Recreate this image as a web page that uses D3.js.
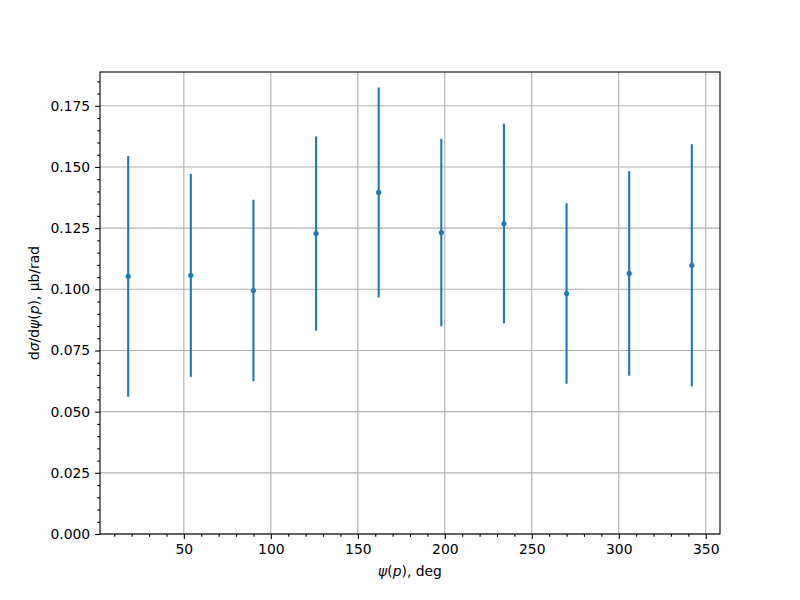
<!DOCTYPE html>
<html>
<head>
<meta charset="utf-8">
<script src="https://cdn.jsdelivr.net/npm/d3@7"></script>
<style>
  html, body { margin: 0; background: #fff; overflow: hidden; }
  svg { display: block; }
  text { font-family: "DejaVu Sans", sans-serif; }
</style>
<script>
  // binned angle centres, deg
  const psiCentres = [18, 54, 90, 126, 162, 198, 234, 270, 306, 342];
  // cross section, ub/rad
  const xsecValues = [0.1053, 0.1057, 0.0995, 0.1228, 0.1396, 0.1232, 0.1269, 0.0983, 0.1065, 0.1098];
  const xsecErrors = [0.0492, 0.0415, 0.0371, 0.0397, 0.0429, 0.0383, 0.0408, 0.0369, 0.0418, 0.0495];
  const xTicks = [50, 100, 150, 200, 250, 300, 350];
  const yTicks = [0, 0.025, 0.05, 0.075, 0.1, 0.125, 0.15, 0.175];

  const render = () => {
    const blue = '#1f77b4';
    const svg = d3.select('svg');
    const width = +svg.attr('width');
    const height = +svg.attr('height');
    const margin = { top: 72, right: 80, bottom: 66, left: 100 };
    const innerWidth = width - margin.left - margin.right;
    const innerHeight = height - margin.top - margin.bottom;

    const data = psiCentres.map((x, i) => ({ x: x, y: xsecValues[i], e: xsecErrors[i] }));

    // matplotlib style 5% margins
    const xMin = d3.min(psiCentres), xMax = d3.max(psiCentres);
    const xPad = 0.05 * (xMax - xMin);
    const lo = d3.min(data, d => d.y - d.e), hi = d3.max(data, d => d.y + d.e);
    const yTop = hi + 0.05 * (hi - lo);

    const xScale = d3.scaleLinear().domain([xMin - xPad, xMax + xPad]).range([0, innerWidth]);
    const yScale = d3.scaleLinear().domain([0, yTop]).range([innerHeight, 0]);

    const g = svg.append('g').attr('transform', `translate(${margin.left},${margin.top})`);

    // grid
    g.append('g').selectAll('line').data(xTicks).enter().append('line')
      .attr('x1', d => xScale(d)).attr('x2', d => xScale(d))
      .attr('y1', 0).attr('y2', innerHeight)
      .attr('stroke', '#b0b0b0').attr('stroke-width', 1.1);
    g.append('g').selectAll('line').data(yTicks).enter().append('line')
      .attr('y1', d => yScale(d)).attr('y2', d => yScale(d))
      .attr('x1', 0).attr('x2', innerWidth)
      .attr('stroke', '#b0b0b0').attr('stroke-width', 1.1);

    // minor ticks
    const xMinor = d3.range(10, 360, 10).filter(v => v % 50 !== 0);
    const yMinor = d3.range(0, 0.1875, 0.005).filter(v => Math.abs(v / 0.025 - Math.round(v / 0.025)) > 1e-6);

    const xAxisG = g.append('g')
      .attr('transform', `translate(0,${innerHeight})`)
      .call(d3.axisBottom(xScale).tickValues(xTicks).tickFormat(d3.format('d'))
        .tickSizeInner(4.9).tickSizeOuter(0).tickPadding(4.9));
    const xMinorG = g.append('g')
      .attr('transform', `translate(0,${innerHeight})`)
      .call(d3.axisBottom(xScale).tickValues(xMinor).tickFormat('')
        .tickSizeInner(2.8).tickSizeOuter(0));
    xMinorG.select('.domain').remove();
    xMinorG.selectAll('text').remove();

    const yAxisG = g.append('g')
      .call(d3.axisLeft(yScale).tickValues(yTicks).tickFormat(d3.format('.3f'))
        .tickSizeInner(4.9).tickSizeOuter(0).tickPadding(4.9));
    const yMinorG = g.append('g')
      .call(d3.axisLeft(yScale).tickValues(yMinor).tickFormat('')
        .tickSizeInner(2.8).tickSizeOuter(0));
    yMinorG.select('.domain').remove();
    yMinorG.selectAll('text').remove();

    xAxisG.select('.domain').remove();
    yAxisG.select('.domain').remove();
    g.selectAll('.tick line').attr('stroke', '#000').attr('stroke-width', 1.1);
    g.selectAll('.tick text').attr('fill', '#000').style('font-size', '13.9px')
      .style('font-family', '"DejaVu Sans", sans-serif');

    // error bars
    g.append('g').selectAll('line').data(data).enter().append('line')
      .attr('x1', d => xScale(d.x)).attr('x2', d => xScale(d.x))
      .attr('y1', d => yScale(d.y - d.e)).attr('y2', d => yScale(d.y + d.e))
      .attr('stroke', blue).attr('stroke-width', 2.1);
    g.append('g').selectAll('circle').data(data).enter().append('circle')
      .attr('cx', d => xScale(d.x)).attr('cy', d => yScale(d.y))
      .attr('r', 2.6).attr('fill', blue);

    // frame
    g.append('rect').attr('width', innerWidth).attr('height', innerHeight)
      .attr('fill', 'none').attr('stroke', '#000').attr('stroke-width', 1.1);

    // axis labels
    const xl = svg.append('text')
      .attr('x', margin.left + innerWidth / 2).attr('y', 576)
      .attr('text-anchor', 'middle').style('font-size', '13.9px');
    xl.append('tspan').attr('font-style', 'italic').text('ψ');
    xl.append('tspan').text('(');
    xl.append('tspan').attr('font-style', 'italic').text('p');
    xl.append('tspan').text('), deg');

    const yl = svg.append('text')
      .attr('transform', `translate(39,${margin.top + innerHeight / 2}) rotate(-90)`)
      .attr('text-anchor', 'middle').style('font-size', '13.9px');
    yl.append('tspan').text('d');
    yl.append('tspan').attr('font-style', 'italic').text('σ');
    yl.append('tspan').text('/d');
    yl.append('tspan').attr('font-style', 'italic').text('ψ');
    yl.append('tspan').text('(');
    yl.append('tspan').attr('font-style', 'italic').text('p');
    yl.append('tspan').text('), μb/rad');
  };

  document.addEventListener('DOMContentLoaded', render);
</script>
</head>
<body>
<svg width="800" height="600"></svg>
</body>
</html>
